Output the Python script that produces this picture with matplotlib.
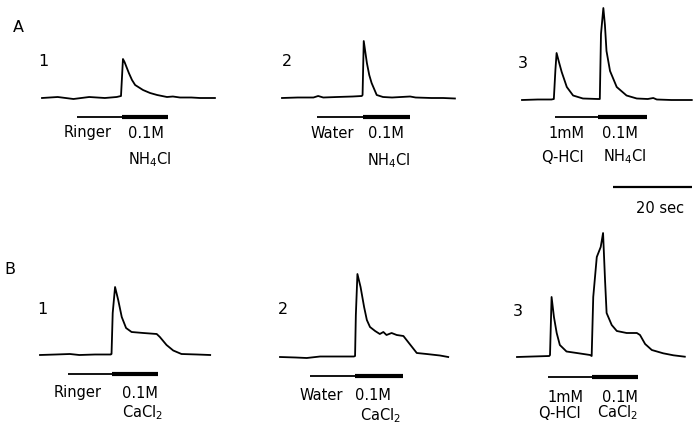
import matplotlib.pyplot as plt

# figure size in pixels and trace scaling
W, H = 695, 433
PX_PER_S = 3.93      # horizontal: pixels per second
PX_PER_UNIT = 10.0   # vertical: pixels per response unit
T_SPAN = 44.0        # seconds shown in each record

# --- records (time in s, response in arbitrary units above baseline) ---
# A: 0.1 M NH4Cl
a1_t = [0, 4, 8, 12, 16, 19.0, 20.1, 20.6, 21.0, 21.4, 22.1, 22.9, 23.7, 25.7,
        27.5, 29.3, 31.8, 33.3, 35.1, 38, 40.2, 44]
a1_y = [0, 0.1, -0.1, 0.1, 0, 0.1, 0.2, 3.9, 3.6, 3.2, 2.5, 1.8, 1.3, 0.8,
        0.5, 0.3, 0.1, 0.15, 0.05, 0.05, 0.0, 0.0]

a2_t = [0, 4, 8, 9.2, 10.5, 14, 18, 20.3, 20.5, 20.8, 21.2, 21.6, 22.2, 22.8,
        24.1, 25.7, 28, 32.6, 34, 38, 41, 44]
a2_y = [0, 0.05, 0.05, 0.2, 0.05, 0.1, 0.15, 0.2, 0.3, 5.7, 4.6, 3.5, 2.3, 1.5,
        0.3, 0.1, 0.05, 0.15, 0.05, 0, 0, -0.05]

a3_t = [0, 4, 7.5, 8.1, 8.5, 8.8, 9.4, 10.1, 11.4, 13.0, 15.5, 19.3, 19.8, 20.1,
        20.7, 21.1, 21.5, 22.4, 24.1, 26.6, 29.2, 32, 33.4, 34.3, 38, 43.2]
a3_y = [0, 0.05, 0.05, 0.1, 3.0, 4.7, 3.8, 2.8, 1.3, 0.45, 0.15, 0.1, 0.1, 6.6,
        9.2, 7.5, 4.9, 2.9, 1.3, 0.45, 0.15, 0.1, 0.2, 0.05, 0, 0]

# B: 0.1 M CaCl2
b1_t = [0, 4, 7.6, 10, 14, 18.0, 18.2, 18.5, 19.1, 19.9, 20.8, 21.9, 23.3, 26.3,
        29.7, 30.5, 32.2, 33.9, 36, 40, 43.3]
b1_y = [0, 0.05, 0.1, 0, 0.05, 0.05, 0.1, 4.2, 6.8, 5.5, 3.8, 2.7, 2.3, 2.2,
        2.1, 1.8, 1.0, 0.45, 0.1, 0.05, 0]

b2_t = [0, 4, 6.8, 10.2, 14, 18.8, 19.1, 19.3, 19.7, 20.5, 21.4, 22.1, 22.9,
        24.2, 25.4, 26.3, 27.1, 28.4, 29.7, 31.4, 32.2, 33.5, 34.8, 37.3, 40.7, 42.8]
b2_y = [0, -0.05, -0.1, 0.05, 0.05, 0.05, 0.1, 4.2, 8.3, 7.0, 5.0, 3.7, 3.0,
        2.6, 2.3, 2.5, 2.2, 2.4, 2.2, 2.1, 1.7, 1.05, 0.4, 0.3, 0.15, 0]

b3_t = [0, 4, 8.2, 8.4, 8.8, 9.4, 10.1, 10.9, 12.6, 15.2, 18.6, 19.0, 19.4, 20.3,
        21.3, 21.9, 22.4, 22.8, 24.1, 25.4, 27.9, 30.5, 31.3, 32.6, 34.3, 37.2,
        39.8, 42.7]
b3_y = [0, 0.05, 0.1, 0.2, 6.0, 4.0, 2.4, 1.2, 0.55, 0.4, 0.2, 0.1, 6.0, 10.0,
        11.0, 12.4, 7.7, 4.4, 3.2, 2.6, 2.4, 2.4, 2.2, 1.3, 0.7, 0.37, 0.17, 0.03]

# solution changes: pre-solution on, test solution on, test solution off (s)
a1_stim = [8.9, 20.4, 32.1]
a2_stim = [8.9, 20.6, 32.6]
a3_stim = [8.4, 19.3, 31.8]
b1_stim = [7.1, 18.3, 30.0]
b2_stim = [7.6, 19.1, 31.4]
b3_stim = [8.0, 19.0, 30.9]

scale_s = 20  # time calibration bar

plt.rcParams['font.family'] = ['DejaVu Sans']
fig = plt.figure(figsize=(W / 100, H / 100), dpi=100)
fig.patch.set_facecolor('white')


def panel(left, base, t, y, stim, num, labels, stim_level=-1.85):
    # axes placed so that time 0 sits at `left` px and response 0 at `base` px
    y_lo, y_hi = -4, 13
    bottom = base - y_lo * PX_PER_UNIT
    top = base - y_hi * PX_PER_UNIT
    ax = fig.add_axes([left / W, 1 - bottom / H, T_SPAN * PX_PER_S / W,
                       (bottom - top) / H])
    ax.set_xlim(0, T_SPAN)
    ax.set_ylim(y_lo, y_hi)
    ax.axis('off')
    ax.plot(t, y, color='black', lw=1.3, clip_on=False, solid_joinstyle='round')
    ax.plot(stim[:2], [stim_level] * 2, color='black', lw=1.3,
            solid_capstyle='butt', clip_on=False)
    ax.plot(stim[1:], [stim_level] * 2, color='black', lw=3.0,
            solid_capstyle='butt', clip_on=False)
    ax.text(num[0], num[1], num[2], fontsize=11.5, ha='center', va='center')
    for txt, tx, ty, ha in labels:
        ax.text(tx, ty, txt, fontsize=10.5, ha=ha, va='center')
    return ax


panel(42, 98, a1_t, a1_y, a1_stim, (0.3, 3.6, '1'),
      [('Ringer', 11.6, -3.5, 'center'), ('0.1M', 21.9, -3.5, 'left'),
       ('NH$_4$Cl', 21.9, -6.2, 'left')])
panel(282, 98, a2_t, a2_y, a2_stim, (1.3, 3.6, '2'),
      [('Water', 12.7, -3.5, 'center'), ('0.1M', 21.9, -3.5, 'left'),
       ('NH$_4$Cl', 21.6, -6.3, 'left')])
ax = panel(522, 100, a3_t, a3_y, a3_stim, (0.3, 3.7, '3'),
           [('1mM', 11.2, -3.3, 'center'), ('0.1M', 20.4, -3.3, 'left'),
            ('Q-HCl', 10.4, -5.7, 'center'), ('NH$_4$Cl', 20.6, -5.7, 'left')],
           stim_level=-1.7)
# 20 s calibration
ax.plot([T_SPAN - 0.8 - scale_s, T_SPAN - 0.8], [-8.7, -8.7], color='black',
        lw=1.6, solid_capstyle='butt', clip_on=False)
ax.text(35.1, -10.8, '%d sec' % scale_s, fontsize=10.5, ha='center', va='center')

panel(40, 355, b1_t, b1_y, b1_stim, (0.5, 4.5, '1'),
      [('Ringer', 9.5, -3.8, 'center'), ('0.1M', 20.9, -3.8, 'left'),
       ('CaCl$_2$', 20.9, -5.8, 'left')])
panel(280, 357, b2_t, b2_y, b2_stim, (0.8, 4.7, '2'),
      [('Water', 10.4, -3.8, 'center'), ('0.1M', 19.1, -3.8, 'left'),
       ('CaCl$_2$', 20.4, -5.9, 'left')])
panel(517, 357, b3_t, b3_y, b3_stim, (0.3, 4.5, '3'),
      [('1mM', 12.2, -4.0, 'center'), ('0.1M', 21.6, -4.0, 'left'),
       ('Q-HCl', 10.7, -5.6, 'center'), ('CaCl$_2$', 20.4, -5.6, 'left')],
      stim_level=-1.95)

# row letters
fig.text(18 / W, 1 - 27 / H, 'A', fontsize=11.5, ha='center', va='center')
fig.text(10 / W, 1 - 270 / H, 'B', fontsize=11.5, ha='center', va='center')

fig.savefig('out.png', dpi=100, facecolor='white')
